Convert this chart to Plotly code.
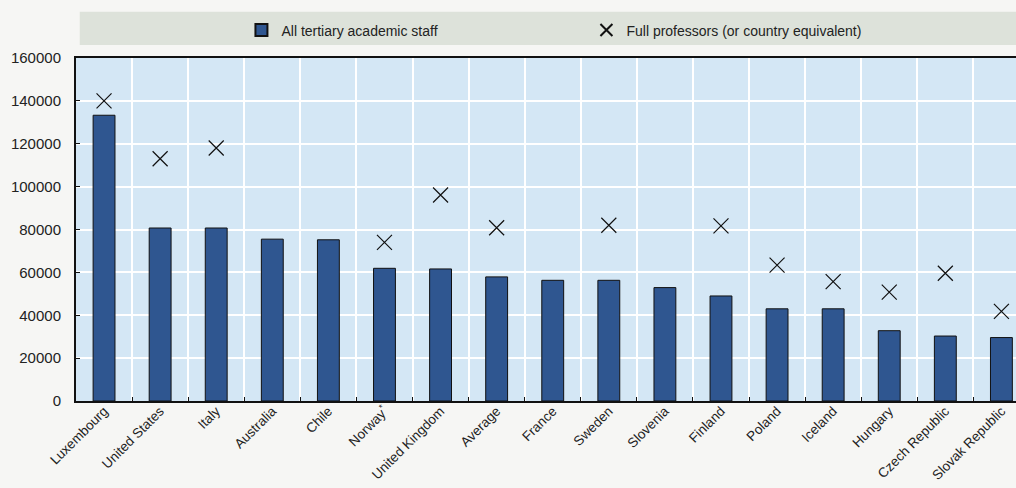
import plotly.graph_objects as go

categories = ["Luxembourg", "United States", "Italy", "Australia", "Chile", "Norway*",
              "United Kingdom", "Average", "France", "Sweden", "Slovenia", "Finland",
              "Poland", "Iceland", "Hungary", "Czech Republic", "Slovak Republic"]
tick_labels = ["Luxembourg", "United States", "Italy", "Australia", "Chile", "Norway<sup>*</sup>",
               "United Kingdom", "Average", "France", "Sweden", "Slovenia", "Finland",
               "Poland", "Iceland", "Hungary", "Czech Republic", "Slovak Republic"]
all_staff = [133300, 80700, 80700, 75500, 75200, 61900, 61600, 57900, 56300, 56300,
             52900, 49000, 43000, 43000, 32800, 30300, 29600]
full_prof = [140000, 113000, 118000, None, None, 74000, 96100, 80800, None, 82000,
             None, 81700, 63400, 55700, 50800, 59600, 41800]
y_ticks = [0, 20000, 40000, 60000, 80000, 100000, 120000, 140000, 160000]

FONT = "Liberation Sans, Arial, sans-serif"

fig = go.Figure()
fig.add_trace(go.Bar(
    x=categories, y=all_staff, name="All tertiary academic staff",
    marker=dict(color="#2f5690", line=dict(color="#111111", width=1)),
    width=0.39,
))
fig.add_trace(go.Scatter(
    x=categories, y=full_prof, mode="markers",
    name="Full professors (or country equivalent)",
    marker=dict(symbol="x-thin", size=15, line=dict(color="#111111", width=1.2), color="#111111"),
))

fig.add_shape(type="rect", xref="paper", yref="paper",
              x0=0.004, x1=1.0, y0=1.038, y1=1.1345,
              fillcolor="#dde2da", line=dict(width=0), layer="below")

fig.update_layout(
    width=1016, height=488,
    margin=dict(l=76, r=0, t=58, b=87, autoexpand=False),
    paper_bgcolor="#f6f6f4",
    plot_bgcolor="#d4e7f5",
    font=dict(family=FONT, size=14, color="#222222"),
    showlegend=True,
    legend=dict(orientation="h", x=0.176, y=1.127, xanchor="left", yanchor="top",
                bgcolor="rgba(0,0,0,0)", font=dict(size=14, color="#222222"),
                entrywidth=300, entrywidthmode="pixels", itemsizing="constant",
                traceorder="normal"),
    bargap=0.6,
    xaxis=dict(
        type="category", categoryorder="array", categoryarray=categories,
        tickmode="array", tickvals=categories, ticktext=tick_labels,
        range=[-0.5, 16.26], tickangle=-45, tickson="boundaries",
        ticks="inside", ticklen=4, tickcolor="#111111",
        showgrid=True, gridcolor="#ffffff", gridwidth=2,
        showline=True, linecolor="#111111", linewidth=2, mirror=True,
        tickfont=dict(size=13.5, color="#222222"), automargin=False,
        ticklabelstandoff=-5,
    ),
    yaxis=dict(
        range=[0, 160000], tickmode="array", tickvals=y_ticks,
        ticktext=[str(v) for v in y_ticks],
        ticks="inside", ticklen=4, tickcolor="#111111",
        showgrid=True, gridcolor="#ffffff", gridwidth=2,
        showline=True, linecolor="#111111", linewidth=2,
        zeroline=False, ticklabelstandoff=10, automargin=False,
        tickfont=dict(size=15, color="#222222"),
    ),
)

fig.write_html("out.html", config={"displayModeBar": False},
               post_script="document.body.style.margin='0';document.body.style.overflow='hidden';")
